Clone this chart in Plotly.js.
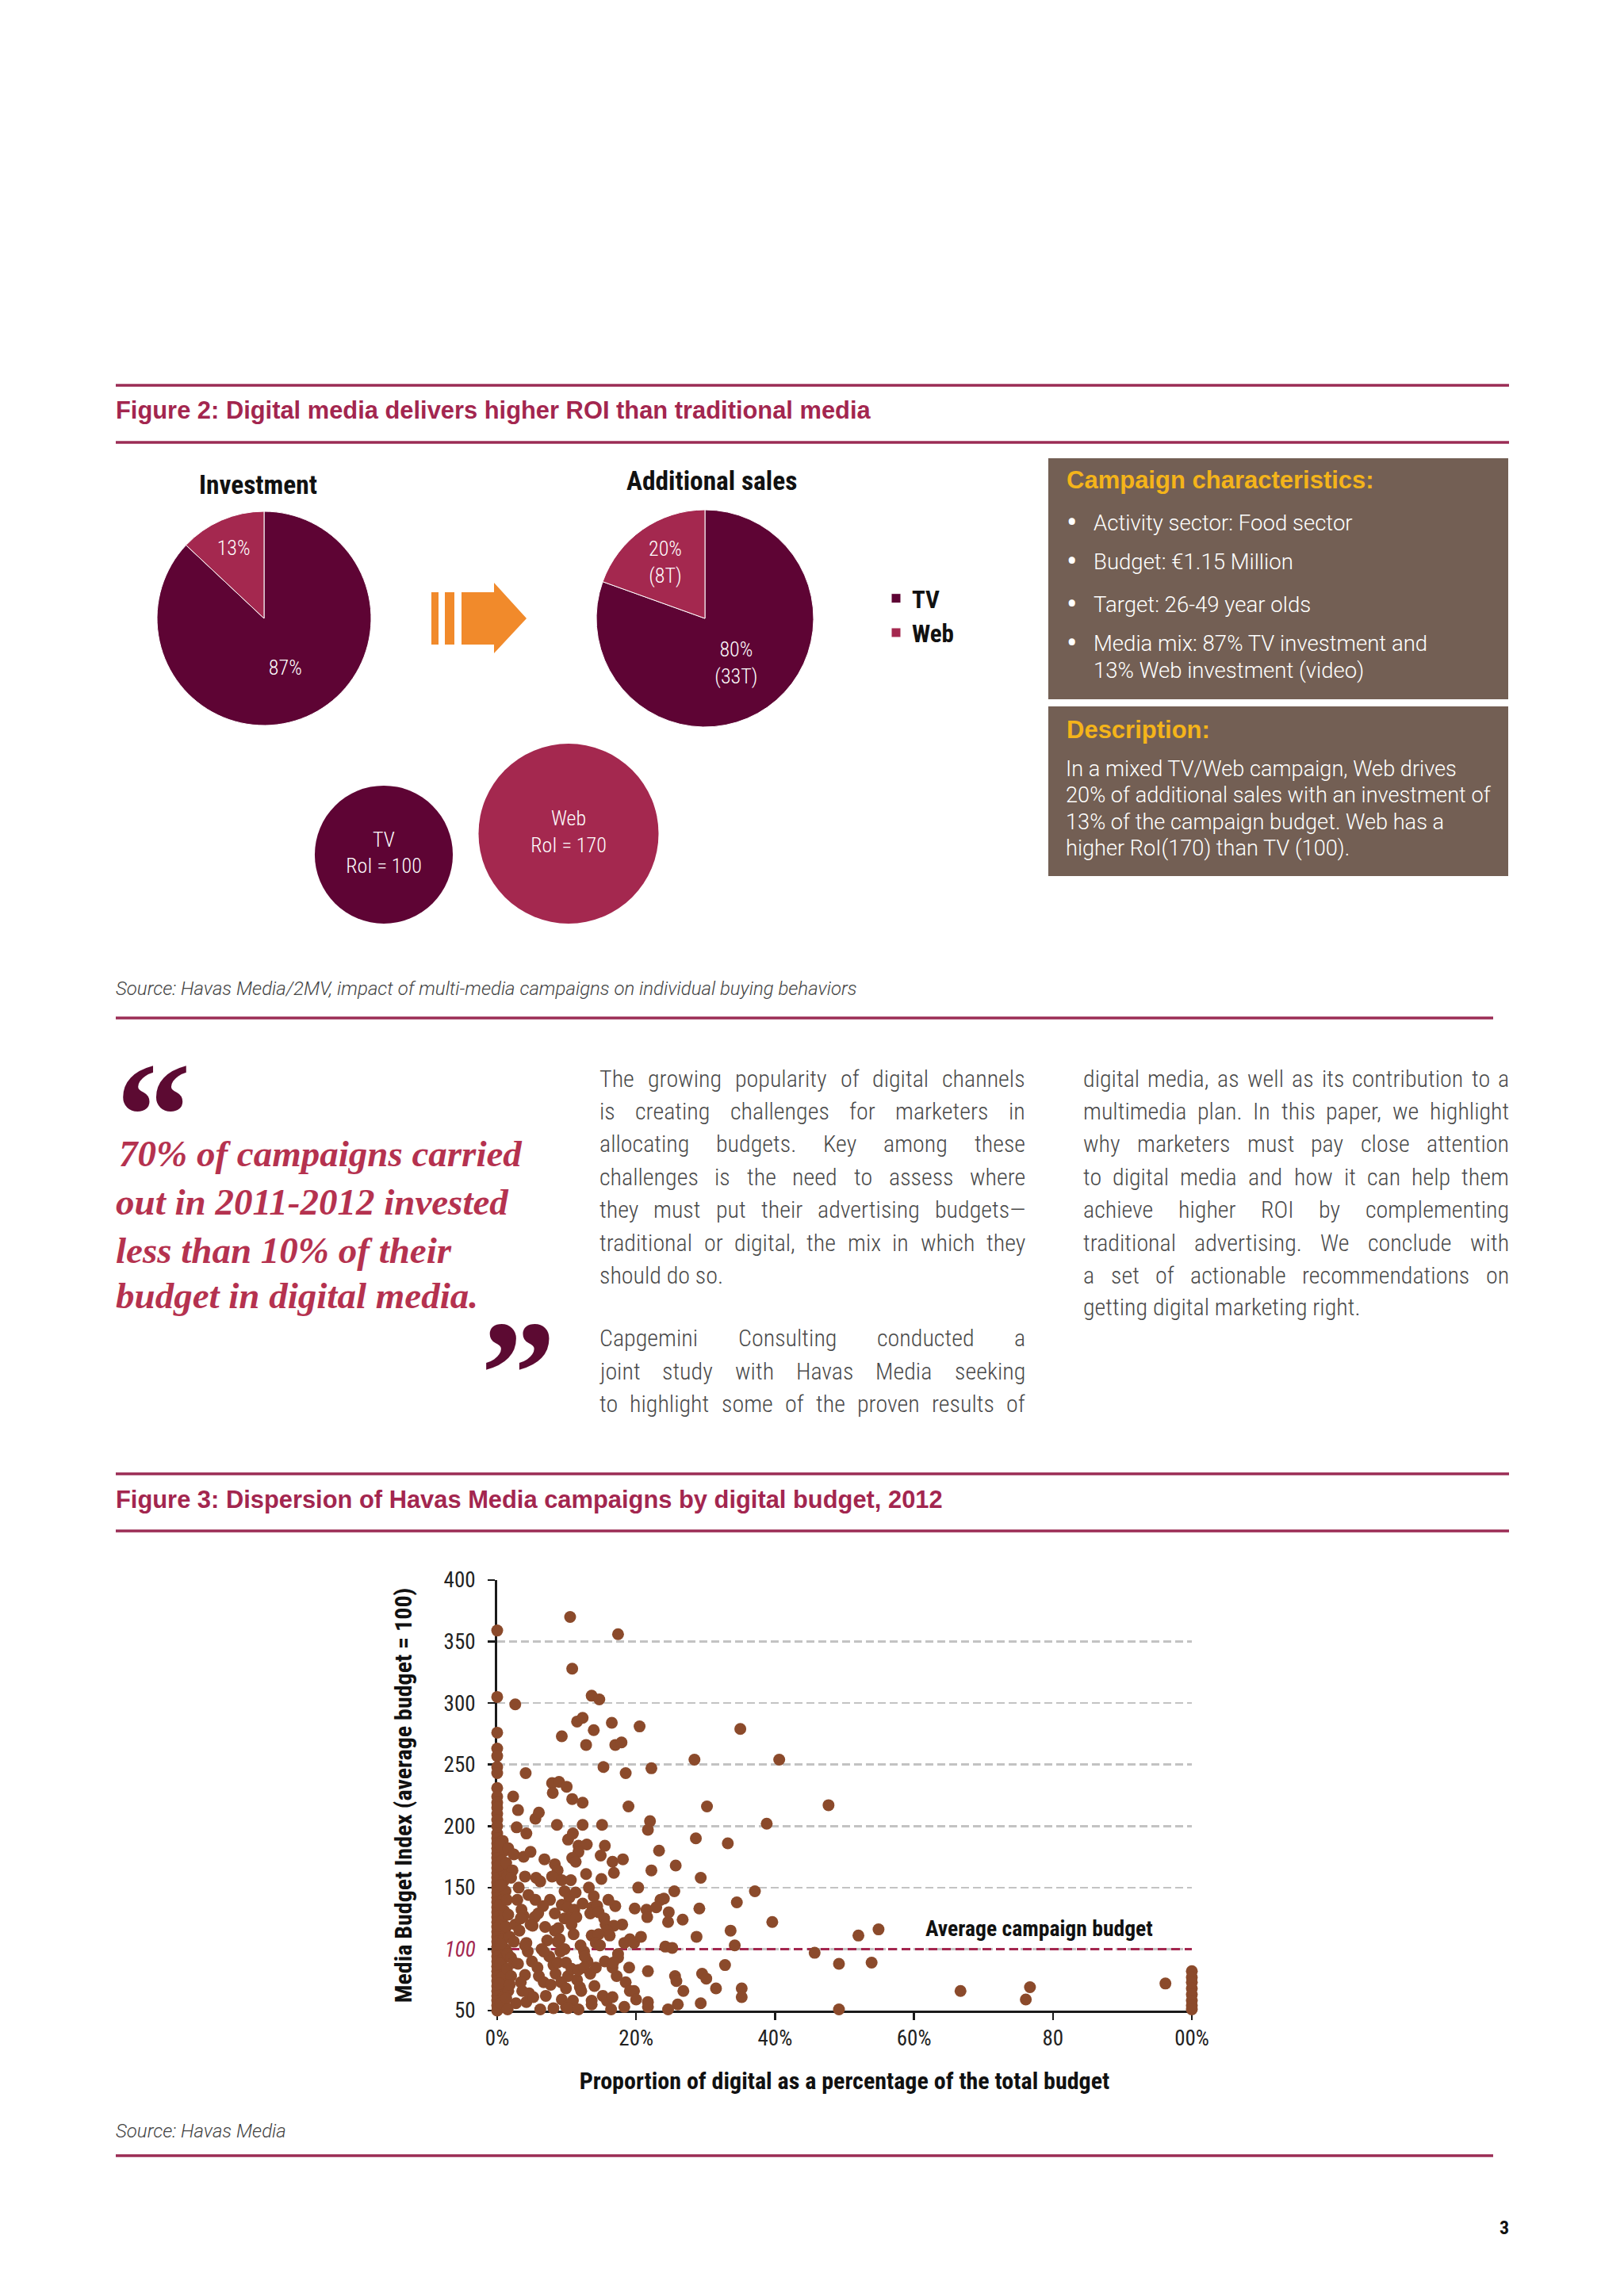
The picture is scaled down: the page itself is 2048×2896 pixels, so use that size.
<!DOCTYPE html>
<html><head><meta charset="utf-8">
<script src="https://cdn.plot.ly/plotly-3.0.1.min.js"></script>
<style>html,body{margin:0;padding:0;background:#fff;}#chart{width:2048px;height:2896px;}</style>
</head><body><div id="chart"></div>
<script>
// ------------------------------------------------------------------ DATA
const investmentLabels = ["TV", "Web"];
const investmentValues = [87, 13];
const salesLabels = ["TV", "Web"];
const salesValues = [33, 8];            // additional sales (T)
const salesText = ["(33T)", "(8T)"];
const roiChannels = ["TV", "Web"];
const roiValues = [100, 170];

// Figure 3 – campaigns (x = % digital in total budget, y = media budget index)
const nearZeroShare = [
  0,0,0,0,0,0,0,0,0,0, 0,0,0,0,0,0,0,0,0,0, 0,0,0,0,0,0,0,0,0,0,
  0,0,0,0,0,0,0,0,0,0, 0,0,0,0,0,0,0,0,0,0, 0,
  0.8,1.1,0.7,1.0,0.9,1.2,0.8,1.0,0.7,1.1,0.9,1.2,0.8,1.0,0.7,1.1,0.9,1.2,
  0.4,0.3,0.5,0.4,0.3,0.5,0.4,0.3,0.5,
  1.3,1.5,1.4,1.6,1.3,1.5,1.4,1.6,1.3,2.9,3.5,2.6,4.4,5.0,3.6,4.2,5.5,6.9,7.2,7.5,
  8.4,7.0,11.0,12.0,13.0,11.5,10.2,14.0,17.2,18.0,17.0,19.0,15.5
];
const nearZeroIndex = [
  359,305,276,263,257,248,243,231,224,219, 215,210,205,200,194,190,186,182,178,174,
  170,166,162,158,154,150,146,142,138,134, 130,126,122,118,114,110,106,102,98,94,
  90,86,82,78,74,70,66,62,58,54, 50,
  188,180,172,163,155,147,140,131,123,116,108,100,92,85,77,69,61,53,
  185,168,152,136,119,104,88,72,56,
  170,160,140,128,118,96,84,66,60,140,132,120,98,90,66,57,140,118,107,94,
  80,62,112,103,90,75,78,70,78,120,135,85,90
];
const spreadShare = [
  10.5,17.4,10.8,2.6,13.6,14.7,11.5,12.3,9.3,13.9,
  16.5,20.5,12.8,17.0,17.9,35.0,15.3,18.5,22.2,28.4,
  40.6,4.1,2.3,7.9,8.9,8.0,10.0,10.8,12.3,3.0,
  5.5,6.0,18.9,30.2,2.8,4.2,8.6,12.3,15.1,22.0,
  21.7,38.8,10.2,10.9,28.6,33.2,11.7,12.9,11.7,15.5,
  1.6,2.4,3.8,4.8,23.3,10.8,11.3,14.9,18.1,6.8,
  8.3,8.7,16.6,16.8,22.2,25.7,2.2,2.0,4.0,5.6,
  6.2,7.9,9.3,10.6,12.8,15.0,29.3,3.1,20.3,25.5,
  37.1,4.5,9.7,10.4,11.3,13.2,13.9,7.6,6.6,16.0,
  23.5,24.0,34.5,9.3,10.1,11.1,12.3,13.7,14.4,19.8,
  21.5,22.9,24.7,29.1,3.8,3.4,5.4,5.9,8.3,9.7,
  10.5,11.4,13.4,14.6,15.4,21.6,26.7,24.6,39.6,4.8,
  5.1,3.2,8.3,8.8,10.7,15.6,16.8,15.8,33.6,1.8,
  2.4,4.2,4.0,8.7,9.0,13.6,14.6,14.2,16.2,18.3,
  19.1,19.7,20.7,28.7,24.2,25.2,34.2,6.4,6.7,9.1,
  9.7,12.5,12.6,14.8,17.4,17.4,2.0,2.4,3.0,45.7,
  5.8,6.0,8.1,8.7,9.9,10.7,11.7,12.5,13.4,14.2,
  16.6,16.7,21.7,32.8,25.6,25.8,29.5,30.1,4.0,2.0,
  1.8,3.4,6.7,7.7,9.2,9.9,11.9,12.1,18.5,19.1,
  19.7,26.8,31.5,35.2,35.2,4.6,5.2,9.3,9.9,10.9,
  13.6,13.6,15.2,15.8,16.6,20.0,21.7,21.7,29.3,26.0,
  24.6,2.7,1.5,6.2,8.1,10.2,11.7,16.4,18.3
];
const spreadIndex = [
  370,356,328,299,306,303,285,288,273,278,
  284,281,266,266,268,279,248,243,247,254,
  254,243,224,235,236,227,232,222,219,213,
  206,211,216,216,199,194,201,201,201,204,
  197,202,189,194,190,186,184,185,179,184,
  182,177,175,179,180,174,171,176,173,173,
  169,164,171,162,164,168,164,158,159,158,
  155,159,156,156,161,157,158,150,150,147,
  147,144,147,142,146,150,143,140,135,140,
  140,141,138,136,134,132,137,134,135,133,
  132,134,130,133,127,125,126,129,129,125,
  125,126,129,130,125,126,124,122,122,120,
  119,115,115,117,120,120,119,115,115,110,
  106,105,103,106,108,111,112,105,111,105,
  108,105,110,110,102,101,103,100,98,98,
  100,98,94,103,96,93,93,89,88,97,
  85,78,87,89,89,84,83,85,80,85,
  85,89,82,87,78,74,80,76,79,78,
  71,73,73,71,73,68,69,66,73,66,
  66,66,68,68,61,64,61,59,53,58,
  58,55,62,58,61,59,57,53,56,55,
  51,56,51,51,52,52,51,51,53
];
const highDigitalShare = [47.7,52.0,54.9,49.2,53.9,66.7,76.7,76.1,49.2,96.2,100,100,100,100,100,100,100,100];
const highDigitalIndex = [217,111,116,88,89,66,69,59,51,72,82,77,73,68,63,58,54,51];
const avgBudget = 100;

const xTickVals = [0, 20, 40, 60, 80, 100];
const xTickText = ["0%", "20%", "40%", "60%", "80", "00%"];
const yTickVals = [50, 100, 150, 200, 250, 300, 350, 400];
const yTickText = ["50", "100", "150", "200", "250", "300", "350", "400"];

// texts
const fig2Title = "Figure 2: Digital media delivers higher ROI than traditional media";
const pieTitles = ["Investment", "Additional sales"];
const campaignTitle = "Campaign characteristics:";
const campaignItems = [["Activity sector: Food sector"], ["Budget: €1.15 Million"], ["Target: 26-49 year olds"], ["Media mix: 87% TV investment and", "13% Web investment (video)"]];
const descriptionTitle = "Description:";
const descriptionLines = ["In a mixed TV/Web campaign, Web drives", "20% of additional sales with an investment of", "13% of the campaign budget. Web has a", "higher RoI(170) than TV (100)."];
const source1 = "Source: Havas Media/2MV, impact of multi-media campaigns on individual buying behaviors";
const quoteLines = ["70% of campaigns carried", "out in 2011-2012 invested", "less than 10% of their", "budget in digital media."];
const openQuote = "\u201C", closeQuote = "\u201D";
const bodyCol1 = ["The growing popularity of digital channels", "is creating challenges for marketers in", "allocating budgets. Key among these", "challenges is the need to assess where", "they must put their advertising budgets—", "traditional or digital, the mix in which they", "should do so.", "Capgemini Consulting conducted a", "joint study with Havas Media seeking", "to highlight some of the proven results of"];
const bodyCol1Justify = [1,1,1,1,1,1,0,1,1,1];
const bodyCol2 = ["digital media, as well as its contribution to a", "multimedia plan. In this paper, we highlight", "why marketers must pay close attention", "to digital media and how it can help them", "achieve higher ROI by complementing", "traditional advertising. We conclude with", "a set of actionable recommendations on", "getting digital marketing right."];
const bodyCol2Justify = [1,1,1,1,1,1,1,0];
const fig3Title = "Figure 3: Dispersion of Havas Media campaigns by digital budget, 2012";
const yTitle = "Media Budget Index (average budget = 100)";
const xTitle = "Proportion of digital as a percentage of the total budget";
const avgLabel = "Average campaign budget";
const source2 = "Source: Havas Media";
const pageNumber = "3";

// ------------------------------------------------------------------ HELPERS
const W = 2048, H = 2896;
const px = v => v / W;
const py = v => 1 - v / H;
const ctx = document.createElement('canvas').getContext('2d');
function hasFont(name) {
  const s = 'mmmmmlliiWWW 0123456789 abcdefghijklmnopqrstuvwxyz';
  ctx.font = '40px monospace'; const a = ctx.measureText(s).width;
  ctx.font = `40px "${name}", monospace`; const b = ctx.measureText(s).width;
  return Math.abs(a - b) > 0.5;
}
const narrowName = ['Liberation Sans Narrow', 'Arial Narrow', 'Roboto Condensed', 'DejaVu Sans Condensed'].find(hasFont);
const COND = narrowName ? `"${narrowName}", "Liberation Sans", sans-serif` : '"Liberation Sans", sans-serif';
const SANS = '"Liberation Sans", Arial, sans-serif';
const LIGHT = 'Roboto, "Liberation Sans", sans-serif';
const SERIF = '"Liberation Serif", "DejaVu Serif", serif';

function textWidth(t, f) {
  ctx.font = `${f.style || 'normal'} ${f.weight || 'normal'} ${f.size}px ${f.family}`;
  return ctx.measureText(t).width;
}
function fitSize(lines, f, target, maxSize) {
  const w = Math.max(...lines.map(t => textWidth(t, Object.assign({}, f, {size: 100}))));
  return Math.min(maxSize, 100 * target / w);
}
const annotations = [];
function addText(text, x, y, font, extra) {
  annotations.push(Object.assign({xref: 'paper', yref: 'paper', x: px(x), y: py(y), text: text,
    showarrow: false, xanchor: 'left', yanchor: 'middle', borderpad: 0, borderwidth: 0, font: font}, extra || {}));
}
function justify(lines, flags, left, right, ys, font) {
  lines.forEach((line, i) => {
    const words = line.split(' ');
    if (!flags[i] || words.length < 2) { addText(line, left, ys[i], font); return; }
    const ws = words.map(w => textWidth(w, font));
    const gap = (right - left - ws.reduce((a, b) => a + b, 0)) / (words.length - 1);
    let x = left;
    words.forEach((w, j) => { addText(w, x, ys[i], font); x += ws[j] + gap; });
  });
}

// ------------------------------------------------------------------ STYLE
const TV_COLOR = '#5e0434', WEB_COLOR = '#a4284f';
const CRIMSON = '#a3264f', RULE = '#9b2c55', BOX = '#735f54', GOLD = '#f4b41a';
const QUOTE_TEXT = '#b5324f', QUOTE_MARK = '#5c0a32';
const DOT = '#8b4a2b';

// ------------------------------------------------------------------ TEXT
let f;
f = {family: SANS, weight: 'bold', color: CRIMSON};
f.size = fitSize([fig2Title], f, 952, 31);
addText(fig2Title, 146, 517, f);
addText(fig3Title, 146, 1891, Object.assign({}, f));

f = {family: COND, weight: 'bold', color: '#111'};
f.size = fitSize([pieTitles[0]], f, 149, 36);
addText(pieTitles[0], 325, 611, f, {xanchor: 'center'});
addText(pieTitles[1], 897, 607, f, {xanchor: 'center'});

// campaign box
f = {family: SANS, weight: 'bold', color: GOLD};
f.size = fitSize([campaignTitle], f, 398, 31);
addText(campaignTitle, 1345, 606, f);
addText(descriptionTitle, 1345, 920, f);
const boxFont = {family: LIGHT, weight: 300, color: '#ffffff'};
boxFont.size = fitSize(campaignItems.flat(), boxFont, 422, 28);
const bulletFont = {family: LIGHT, weight: 'normal', color: '#ffffff', size: 40};
const itemYs = [659, 708, 762, 812, 845];
let li = 0;
campaignItems.forEach(item => {
  addText('•', 1352, itemYs[li], bulletFont, {xanchor: 'center'});
  item.forEach(t => { addText(t, 1379, itemYs[li], boxFont); li++; });
});
const descFont = Object.assign({}, boxFont);
descFont.size = fitSize(descriptionLines, descFont, 536, 28);
const descYs = [970, 1003, 1037, 1070];
descriptionLines.forEach((t, i) => addText(t, 1344, descYs[i], descFont));

// sources
f = {family: LIGHT, weight: 300, style: 'italic', color: '#444'};
f.size = fitSize([source1], f, 952, 24);
addText(source1, 146, 1247, f);
addText(source2, 146, 2688, f);

// pull quote: opening mark shares the first line's baseline (one text block)
const qFont = {family: SERIF, weight: 'bold', style: 'italic', color: QUOTE_TEXT, size: 47};
const markSize = 190;
const markFont = {family: SERIF, weight: 'bold', style: 'normal', size: markSize, color: QUOTE_MARK};
const markAdv = textWidth(openQuote, markFont);
const markKeep = 4;   // px of the mark's advance kept so the mark keeps a real width
const markSpan = `<span style="font-size:${markSize}px;font-style:normal;color:${QUOTE_MARK};letter-spacing:-${(markAdv - markKeep).toFixed(1)}px">${openQuote}</span>`;
const firstBaseline = 1471, lineStep = 1.3 * qFont.size;
addText(markSpan + quoteLines.slice(0, 3).join('<br>'), 146, firstBaseline + 2 * lineStep + 0.216 * qFont.size, qFont,
  {yanchor: 'bottom', align: 'left'});
addText(quoteLines[3], 146, 1650 - 0.3375 * qFont.size, qFont);
const line4Right = 146 + textWidth(quoteLines[3], qFont);
addText(closeQuote, Math.max(588, line4Right + 3), 1672 - 0.235 * markSize + 0.5535 * markSize, markFont);

// body columns
const bodyFont = narrowName ? {family: COND, weight: 300, color: '#4a4a4a'} : {family: LIGHT, weight: 300, color: '#444'};
bodyFont.size = Math.min(30, fitSize(bodyCol1.concat(bodyCol2), bodyFont, 536, 30));
justify(bodyCol1, bodyCol1Justify, 756, 1293, [1360, 1401, 1443, 1484, 1525, 1567, 1608, 1687, 1729, 1770], bodyFont);
justify(bodyCol2, bodyCol2Justify, 1366, 1903, [1360, 1401, 1443, 1484, 1525, 1567, 1608, 1649], bodyFont);

// page number
addText(pageNumber, 1903, 2810, {family: COND, weight: 'bold', size: 24, color: '#111'}, {xanchor: 'right'});

// scatter label
f = {family: COND, weight: 'bold', color: '#111'};
f.size = fitSize([avgLabel], f, 287, 30);
annotations.push({xref: 'x', yref: 'y', x: 78, y: 117, text: avgLabel, showarrow: false, xanchor: 'center', yanchor: 'middle', font: f});

// axis title fonts
const yTitleFont = {family: COND, weight: 'bold', color: '#111'};
yTitleFont.size = fitSize([yTitle], yTitleFont, 537, 30);
const xTitleFont = {family: COND, weight: 'bold', color: '#111'};
xTitleFont.size = fitSize([xTitle], xTitleFont, 683, 30);
const tickFont = {family: COND, color: '#222'};
tickFont.size = fitSize(['400'], tickFont, 40, 27);

// ------------------------------------------------------------------ SHAPES
const shapes = [];
[[486, 1903], [558, 1903], [1284, 1883], [1859, 1903], [1931, 1903], [2719, 1883]].forEach(([y, x1]) => {
  shapes.push({type: 'line', xref: 'paper', yref: 'paper', x0: px(146), x1: px(x1), y0: py(y), y1: py(y), line: {color: RULE, width: 3.5}});
});
[[578, 882], [891, 1105]].forEach(([y0, y1]) => {
  shapes.push({type: 'rect', xref: 'paper', yref: 'paper', x0: px(1322), x1: px(1902), y0: py(y1), y1: py(y0), fillcolor: BOX, line: {width: 0}, layer: 'below'});
});
const ORANGE = '#f18a2b';
[[544, 553], [561, 573]].forEach(([a, b]) => shapes.push({type: 'rect', xref: 'paper', yref: 'paper', x0: px(a), x1: px(b), y0: py(813), y1: py(747), fillcolor: ORANGE, line: {width: 0}}));
const arrowPts = [[582, 747], [623, 747], [623, 735], [664, 780], [623, 824], [623, 813], [582, 813]];
shapes.push({type: 'path', xref: 'paper', yref: 'paper', path: 'M' + arrowPts.map(p => px(p[0]) + ',' + py(p[1])).join('L') + 'Z', fillcolor: ORANGE, line: {width: 0}});

// ------------------------------------------------------------------ TRACES
const pieCommon = {type: 'pie', sort: false, direction: 'clockwise', rotation: 0, textposition: 'inside',
  insidetextorientation: 'horizontal', marker: {colors: [TV_COLOR, WEB_COLOR], line: {color: '#ffffff', width: 1}},
  textfont: {family: COND, size: 26, weight: 300, color: '#ffffff'}, hoverinfo: 'skip', showlegend: true};
const pie1 = Object.assign({}, pieCommon, {labels: investmentLabels, values: investmentValues, texttemplate: '%{percent:.0%}',
  domain: {x: [px(198), px(468)], y: [py(915), py(645)]}});
const pie2 = Object.assign({}, pieCommon, {labels: salesLabels, values: salesValues, text: salesText, texttemplate: '%{percent:.0%}<br>%{text}',
  domain: {x: [px(752), px(1026)], y: [py(917), py(643)]}});

const maxBubble = 227;
const sizeref = 2 * Math.max(...roiValues) / (maxBubble * maxBubble);
const bubbleR = roiValues.map(v => Math.sqrt(v / (2 * sizeref)));
const bubbles = {type: 'scatter', mode: 'markers+text', x: roiChannels, y: bubbleR, xaxis: 'x2', yaxis: 'y2',
  text: roiChannels.map((c, i) => c + '<br>RoI = ' + roiValues[i]), textposition: 'middle center',
  textfont: {family: COND, size: 26, weight: 300, color: '#ffffff'},
  marker: {size: roiValues, sizemode: 'area', sizeref: sizeref, color: [TV_COLOR, WEB_COLOR], line: {width: 0}, opacity: 1},
  cliponaxis: false, showlegend: false, hoverinfo: 'skip'};

const avgLine = {type: 'scatter', mode: 'lines', x: [xTickVals[0], xTickVals[xTickVals.length - 1]], y: [avgBudget, avgBudget],
  line: {color: CRIMSON, width: 3, dash: '11px,6px'}, showlegend: false, hoverinfo: 'skip', cliponaxis: false};
const dotStyle = {type: 'scatter', mode: 'markers', marker: {size: 15, color: DOT, line: {width: 0}}, cliponaxis: false, showlegend: false, hoverinfo: 'skip'};
const dots1 = Object.assign({}, dotStyle, {x: nearZeroShare, y: nearZeroIndex});
const dots2 = Object.assign({}, dotStyle, {x: spreadShare, y: spreadIndex});
const dots3 = Object.assign({}, dotStyle, {x: highDigitalShare, y: highDigitalIndex});

const yTickLabels = yTickText.map(t => Number(t) === avgBudget ? `<i><span style="color:${CRIMSON}">${t}</span></i>` : t);

const layout = {
  width: W, height: H, margin: {l: 0, r: 0, t: 0, b: 0}, paper_bgcolor: '#ffffff', plot_bgcolor: 'rgba(0,0,0,0)',
  font: {family: SANS, color: '#222'},
  showlegend: true,
  legend: {x: px(1110), y: py(728), xanchor: 'left', yanchor: 'top', bgcolor: 'rgba(0,0,0,0)', traceorder: 'normal',
    font: {family: COND, size: 31, weight: 'bold', color: '#111'}},
  xaxis: {domain: [px(627), px(1503)], range: [0, 100], anchor: 'y', showline: true, linecolor: '#1a1a1a', linewidth: 3,
    ticks: 'outside', ticklen: 9, tickwidth: 2.5, tickcolor: '#1a1a1a', tickvals: xTickVals, ticktext: xTickText,
    tickfont: tickFont, ticklabelstandoff: 0, showgrid: false, zeroline: false, layer: 'below traces', fixedrange: true,
    title: {text: xTitle, font: xTitleFont, standoff: 28}},
  yaxis: {domain: [py(2536), py(1993)], range: [50, 400], anchor: 'x', showline: true, linecolor: '#1a1a1a', linewidth: 3,
    ticks: 'outside', ticklen: 9, tickwidth: 2.5, tickcolor: '#1a1a1a', tickvals: yTickVals, ticktext: yTickLabels,
    tickfont: tickFont, ticklabelstandoff: 10, showgrid: true, gridcolor: '#c3c3c3', gridwidth: 2.5, griddash: '10px,5px',
    zeroline: false, layer: 'below traces', fixedrange: true,
    title: {text: yTitle, font: yTitleFont, standoff: 32}},
  xaxis2: {domain: [px(380), px(840)], type: 'category', range: [-0.4464, 1.528], anchor: 'y2', visible: false, fixedrange: true},
  yaxis2: {domain: [py(1165), py(865)], range: [0, 300], anchor: 'x2', visible: false, fixedrange: true},
  shapes: shapes,
  annotations: annotations
};

Plotly.newPlot('chart', [pie1, pie2, bubbles, avgLine, dots1, dots2, dots3], layout, {staticPlot: true, displayModeBar: false});
</script>
</body></html>
